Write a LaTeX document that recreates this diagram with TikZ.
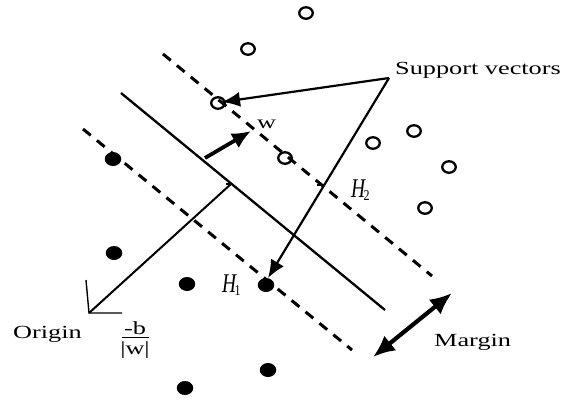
\documentclass[tikz,border=0pt]{standalone}
\usepackage{fontspec}
\setmainfont{Liberation Serif}
\newfontfamily\widefont[FakeStretch=1.42]{Liberation Serif}
\usetikzlibrary{arrows.meta,shapes.geometric}
\newcommand{\hlabel}[1]{\scalebox{0.72}[1]{\fontsize{27}{27}\selectfont\itshape H}\kern-1.5pt\raisebox{-3.5pt}{\scalebox{0.8}[1]{\fontsize{15}{15}\selectfont #1}}}
\begin{document}
\begin{tikzpicture}[x=1pt,y=-1pt,
  opencirc/.style={ellipse,draw,line width=2.3pt,minimum width=13.5pt,minimum height=11.5pt,inner sep=0pt},
  filledcirc/.style={ellipse,fill,minimum width=16.5pt,minimum height=14pt,inner sep=0pt},
  hyperdash/.style={line width=3pt,dash pattern=on 10pt off 8pt},
  hypersolid/.style={line width=2.3pt},
  svarrow/.style={line width=2.2pt,-{Latex[length=18pt,width=15pt]}},
  thickarrow/.style={line width=3.8pt,-{Latex[length=19pt,width=17pt]}},
  marginarrow/.style={line width=4.2pt,{Latex[length=22pt,width=19pt]}-{Latex[length=22pt,width=19pt]}},
  lbl/.style={font=\widefont\fontsize{18.5}{20}\selectfont,inner sep=0pt},
  hlbl/.style={inner sep=0pt}
]
\useasboundingbox (0,0) rectangle (561,400);

% hyperplanes
\coordinate (h2a) at (163,54);  \coordinate (h2b) at (432,276);
\coordinate (h0a) at (121,93);  \coordinate (h0b) at (385,310);
\coordinate (h1a) at (83,129);  \coordinate (h1b) at (352,350);
\draw[hyperdash] (h2a) -- (h2b);
\draw[hypersolid] (h0a) -- (h0b);
\draw[hyperdash] (h1a) -- (h1b);

% open circles (class +)
\node[opencirc] (o1) at (306,13) {};
\node[opencirc] (o2) at (248,49) {};
\node[opencirc] (o3) at (218,103) {};
\node[opencirc] (o4) at (285,158) {};
\node[opencirc] (o5) at (373,143) {};
\node[opencirc] (o6) at (414,131) {};
\node[opencirc] (o7) at (449,167) {};
\node[opencirc] (o8) at (425,208) {};

% filled circles (class -)
\node[filledcirc] (f1) at (113,159) {};
\node[filledcirc] (f2) at (114,253) {};
\node[filledcirc] (f3) at (187,284) {};
\node[filledcirc] (f4) at (266,285) {};
\node[filledcirc] (f5) at (185,388) {};
\node[filledcirc] (f6) at (268,370) {};

% origin and perpendicular
\coordinate (orig) at (89,313);
\coordinate (axy) at (86,280);
\coordinate (axx) at (122,313);
\coordinate (foot) at (231,184);
\draw[line width=1.4pt] (axy) -- (orig) -- (axx);
\draw[line width=2pt] (orig) -- (foot);
\coordinate (tka) at (226,184); \coordinate (tkb) at (232,184);
\draw[line width=1.4pt] (tka) -- (tkb);

% support vectors
\node[lbl,anchor=base west] (sv) at (395,74.5) {Support vectors};
\coordinate (svc) at (389,78);
\coordinate (t1) at (222,102);
\coordinate (t2) at (268,278);
\draw[svarrow] (svc) -- (t1);
\draw[svarrow] (svc) -- (t2);
\coordinate (tk2a) at (317,185); \coordinate (tk2b) at (324,185);
\draw[line width=1.4pt] (tk2a) -- (tk2b);

% w vector
\coordinate (wa) at (205,158);
\coordinate (wb) at (251,131);
\draw[thickarrow] (wa) -- (wb);
\node[lbl,anchor=base west] (w) at (257,128.5) {w};

% labels H1, H2
\node[hlbl,anchor=base west] (H2) at (351,197) {\hlabel{2}};
\node[hlbl,anchor=base west] (H1) at (222,292) {\hlabel{1}};

% margin
\coordinate (ma) at (373,357);
\coordinate (mb) at (452,293);
\draw[marginarrow] (ma) -- (mb);
\node[lbl,anchor=base west] (margin) at (434,346) {Margin};

% origin label and fraction
\node[lbl,anchor=base west] (origin) at (13,338) {Origin};
\node[lbl,anchor=base] (fnum) at (135,334.5) {-b};
\node[lbl,anchor=base] (fden) at (135,354) {|w|};
\coordinate (fla) at (122,337.5); \coordinate (flb) at (149,337.5);
\draw[line width=1.1pt] (fla) -- (flb);
\end{tikzpicture}
\end{document}
